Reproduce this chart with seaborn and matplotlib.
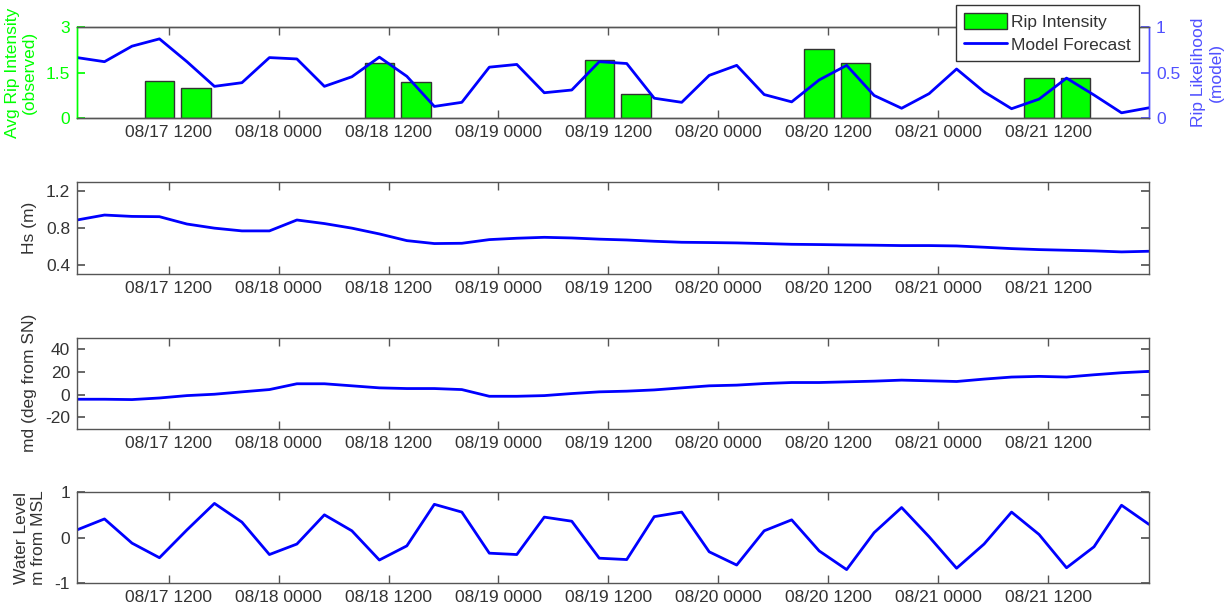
import numpy as np
import pandas as pd
import matplotlib
matplotlib.use("Agg")
import matplotlib.pyplot as plt
import matplotlib.dates as mdates
from matplotlib.patches import Patch
from matplotlib.lines import Line2D
import seaborn as sns

# ---------------- data ----------------
times = pd.date_range("2013-08-17 02:00", periods=40, freq="3h")

model_forecast = [0.665, 0.62, 0.79, 0.87, 0.62, 0.35, 0.39, 0.665, 0.65, 0.35,
                  0.455, 0.67, 0.46, 0.13, 0.175, 0.56, 0.59, 0.28, 0.31, 0.62,
                  0.60, 0.22, 0.175, 0.47, 0.58, 0.26, 0.18, 0.42, 0.58, 0.25,
                  0.11, 0.27, 0.54, 0.29, 0.105, 0.21, 0.44, 0.255, 0.06, 0.115]

hs = [0.889, 0.943, 0.928, 0.925, 0.845, 0.80, 0.77, 0.77, 0.889, 0.85,
      0.80, 0.737, 0.664, 0.632, 0.635, 0.675, 0.69, 0.70, 0.693, 0.68,
      0.671, 0.657, 0.646, 0.643, 0.639, 0.632, 0.624, 0.621, 0.617, 0.614,
      0.61, 0.61, 0.606, 0.592, 0.577, 0.566, 0.559, 0.552, 0.541, 0.548]

md = [-4.1, -4.1, -4.4, -3.0, -0.9, 0.3, 2.4, 4.4, 9.5, 9.5,
      7.7, 5.9, 5.3, 5.3, 4.4, -1.5, -1.5, -0.9, 0.9, 2.4,
      3.0, 4.1, 5.9, 7.7, 8.3, 9.7, 10.6, 10.6, 11.2, 11.8,
      12.7, 12.1, 11.5, 13.6, 15.4, 16.0, 15.4, 17.4, 19.2, 20.4]

water_level = [0.17, 0.41, -0.12, -0.44, 0.17, 0.75, 0.34, -0.37, -0.14, 0.50,
               0.15, -0.49, -0.18, 0.73, 0.56, -0.34, -0.37, 0.45, 0.36, -0.45,
               -0.48, 0.46, 0.56, -0.31, -0.60, 0.15, 0.39, -0.29, -0.70, 0.11,
               0.66, 0.02, -0.67, -0.14, 0.56, 0.07, -0.66, -0.20, 0.71, 0.29]

obs_times = pd.to_datetime(["2013-08-17 11:00", "2013-08-17 15:00",
                            "2013-08-18 11:00", "2013-08-18 15:00",
                            "2013-08-19 11:00", "2013-08-19 15:00",
                            "2013-08-20 11:00", "2013-08-20 15:00",
                            "2013-08-21 11:00", "2013-08-21 15:00"])
rip_intensity = [1.21, 0.98, 1.82, 1.18, 1.92, 0.81, 2.28, 1.82, 1.31, 1.31]

tick_times = pd.date_range("2013-08-17 12:00", periods=9, freq="12h")

# ---------------- style ----------------
sns.set_theme(style="white")
plt.rcParams["font.family"] = ["Liberation Sans", "DejaVu Sans"]
FS = 12.5
plt.rcParams["font.size"] = FS

TXT = "#333333"
SPINE = "#555555"
GREEN = "#00ff00"
BLUE = "#0000ff"
LBLUE = "#5050ff"
LW = 2.0

fig = plt.figure(figsize=(12.25, 6.07), dpi=100)
W = 1225.0
H = 607.0
left = 77 / W
width = (1149 - 77) / W

def make_ax(top_px, bot_px):
    return fig.add_axes([left, 1 - bot_px / H, width, (bot_px - top_px) / H])

ax1 = make_ax(27, 118.3)
ax_hs = make_ax(182.3, 274)
ax_md = make_ax(337.7, 428.7)
ax_wl = make_ax(492, 583.3)

xnum = mdates.date2num(times)
obs_num = mdates.date2num(obs_times)
tick_num = mdates.date2num(tick_times)

df = pd.DataFrame({"t": xnum, "model": model_forecast, "hs": hs, "md": md, "wl": water_level})
dfo = pd.DataFrame({"t": obs_num, "rip": rip_intensity})

def style_x(ax):
    ax.set_xlim(xnum[0], xnum[-1])
    ax.set_xticks(tick_num)
    ax.set_xticklabels([t.strftime("%m/%d %H%M") for t in tick_times])
    ax.tick_params(axis="x", direction="in", top=True, bottom=True, length=6,
                   width=1, color=SPINE, labelcolor=TXT, labelsize=FS, pad=5)
    ax.set_xlabel("")

# ---------------- top panel ----------------
sns.barplot(data=dfo, x="t", y="rip", native_scale=True, color=GREEN, saturation=1,
            edgecolor="#333333", linewidth=1, width=0.8, ax=ax1)
ax1.set_ylim(0, 3)
ax1.set_yticks([0, 1.5, 3])
ax1.set_yticklabels(["0", "1.5", "3"])
ax1.tick_params(axis="y", direction="in", left=True, right=False, length=6,
                color=GREEN, labelcolor=GREEN, labelsize=FS, pad=5)
ax1.set_ylabel("Avg Rip Intensity\n(observed)", color=GREEN, fontsize=FS, labelpad=6)
style_x(ax1)

ax2 = ax1.twinx()
sns.lineplot(data=df, x="t", y="model", color=BLUE, linewidth=LW, ax=ax2)
ax2.set_ylim(0, 1)
ax2.set_yticks([0, 0.5, 1])
ax2.set_yticklabels(["0", "0.5", "1"])
ax2.tick_params(axis="y", direction="in", right=True, left=False, length=6,
                color=LBLUE, labelcolor=LBLUE, labelsize=FS, pad=5)
ax2.set_ylabel("Rip Likelihood\n(model)", color=LBLUE, fontsize=FS, labelpad=8)
ax2.set_xlim(xnum[0], xnum[-1])
ax2.set_xlabel("")

for a in (ax1, ax2):
    a.spines["top"].set_color(SPINE)
    a.spines["bottom"].set_color(SPINE)
    a.spines["left"].set_color(GREEN)
    a.spines["right"].set_color(LBLUE)
    for s in a.spines.values():
        s.set_linewidth(1)

handles = [Patch(facecolor=GREEN, edgecolor="#333333", linewidth=1),
           Line2D([0], [0], color=BLUE, linewidth=LW)]
leg = fig.legend(handles, ["Rip Intensity", "Model Forecast"], loc="upper right",
                 bbox_to_anchor=(1139 / W, 1 - 5 / H), bbox_transform=fig.transFigure,
                 borderaxespad=0, fancybox=False, framealpha=1, edgecolor="#333333",
                 fontsize=FS, handlelength=2.5, handleheight=1.1, handletextpad=0.25,
                 borderpad=0.45, labelspacing=0.35)
leg.get_frame().set_linewidth(1)
for t in leg.get_texts():
    t.set_color(TXT)

# ---------------- other panels ----------------
def style_panel(ax, ylim, yticks, ylabels, label):
    ax.set_ylim(*ylim)
    ax.set_yticks(yticks)
    ax.set_yticklabels(ylabels)
    ax.tick_params(axis="y", direction="in", left=True, right=True, length=6,
                   color=SPINE, labelcolor=TXT, labelsize=FS, pad=5)
    ax.set_ylabel(label, color=TXT, fontsize=FS, labelpad=6)
    style_x(ax)
    for s in ax.spines.values():
        s.set_color(SPINE)
        s.set_linewidth(1)

sns.lineplot(data=df, x="t", y="hs", color=BLUE, linewidth=LW, ax=ax_hs)
style_panel(ax_hs, (0.3, 1.3), [0.4, 0.8, 1.2], ["0.4", "0.8", "1.2"], "Hs (m)")

sns.lineplot(data=df, x="t", y="md", color=BLUE, linewidth=LW, ax=ax_md)
style_panel(ax_md, (-30, 50), [-20, 0, 20, 40], ["-20", "0", "20", "40"], "md (deg from SN)")

sns.lineplot(data=df, x="t", y="wl", color=BLUE, linewidth=LW, ax=ax_wl)
style_panel(ax_wl, (-1, 1), [-1, 0, 1], ["-1", "0", "1"], "Water Level\nm from MSL")

fig.savefig("out.png", dpi=100)
